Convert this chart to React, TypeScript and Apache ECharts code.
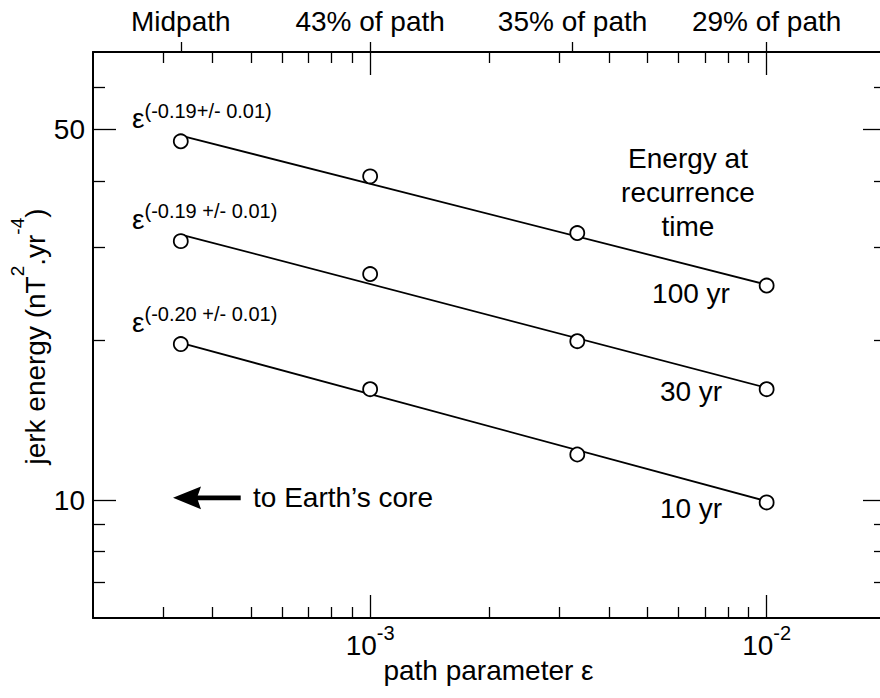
import React, { useEffect, useRef } from "react";
import * as echarts from "echarts";

// ---- data ----
const epsilon = [3.33e-4, 1e-3, 3.33e-3, 1e-2];
const energy100yr = [47.5, 40.8, 31.9, 25.4];
const energy30yr = [30.8, 26.7, 19.95, 16.2];
const energy10yr = [19.7, 16.2, 12.2, 9.91];

const fitEpsilon = [3.33e-4, 1e-2];
const fit100yr = [48.7, 25.5];
const fit30yr = [31.7, 16.3];
const fit10yr = [19.8, 9.96];

const exponentLabels = ["(-0.19+/- 0.01)", "(-0.19 +/- 0.01)", "(-0.20 +/- 0.01)"];
const recurrenceLabels = ["100 yr", "30 yr", "10 yr"];

const xMin = 2e-4;
const xMax = 2e-2;
const yMin = 6;
const yMax = 70;

const xMajorTicks = [1e-3, 1e-2];
const xMajorExponents = ["-3", "-2"];
const xMinorTicks = [3e-4, 4e-4, 5e-4, 6e-4, 7e-4, 8e-4, 9e-4, 2e-3, 3e-3, 4e-3, 5e-3, 6e-3, 7e-3, 8e-3, 9e-3];
const topTickValues = [3.33e-4, 1e-3, 3.24e-3, 1e-2];
const topTickLabels = ["Midpath", "43% of path", "35% of path", "29% of path"];

const yMajorTicks = [10, 50];
const yMinorTicks = [7, 8, 9, 20, 30, 40, 60];

const FONT = "'Liberation Sans', Arial, Helvetica, sans-serif";
const BLACK = "#000";

function findIdx(list: number[], v: number) {
  return list.findIndex((t) => Math.abs(Math.log10(t) - Math.log10(v)) < 1e-4);
}

function buildOption() {
  const tickLine = { color: BLACK, width: 1.3 };
  const frameLine = { show: true, onZero: false, lineStyle: { color: BLACK, width: 2 } };
  const noLine = { show: false, onZero: false };

  const xBase = {
    type: "log",
    logBase: 10,
    min: xMin,
    max: xMax,
    gridIndex: 0,
    splitLine: { show: false },
    minorTick: { show: false },
  };
  const yBase = {
    type: "log",
    logBase: 10,
    min: yMin,
    max: yMax,
    gridIndex: 0,
    splitLine: { show: false },
    minorTick: { show: false },
  };

  const xAxis = [
    {
      ...xBase,
      position: "bottom",
      axisLine: frameLine,
      axisTick: { show: true, inside: true, length: 11, customValues: xMinorTicks, lineStyle: tickLine },
      axisLabel: { show: false },
    },
    {
      ...xBase,
      position: "bottom",
      axisLine: noLine,
      axisTick: { show: true, inside: true, length: 23, customValues: xMajorTicks, lineStyle: tickLine },
      axisLabel: {
        show: true,
        customValues: xMajorTicks,
        margin: 5,
        formatter: (v: number) => {
          const i = findIdx(xMajorTicks, v);
          return i < 0 ? "" : `{b|10}{s|${xMajorExponents[i]}}`;
        },
        rich: {
          b: { fontSize: 28, lineHeight: 44, height: 44, verticalAlign: "bottom", color: BLACK, fontFamily: FONT },
          s: { fontSize: 20, lineHeight: 20, height: 20, verticalAlign: "top", color: BLACK, fontFamily: FONT },
        },
      },
    },
    {
      ...xBase,
      position: "top",
      axisLine: frameLine,
      axisTick: { show: true, inside: true, length: 11, customValues: xMinorTicks, lineStyle: tickLine },
      axisLabel: { show: false },
    },
    {
      ...xBase,
      position: "top",
      axisLine: noLine,
      axisTick: { show: true, inside: true, length: 23, customValues: xMajorTicks, lineStyle: tickLine },
      axisLabel: { show: false },
    },
    {
      ...xBase,
      position: "top",
      axisLine: noLine,
      axisTick: { show: true, inside: false, length: 10, customValues: topTickValues, lineStyle: tickLine },
      axisLabel: {
        show: true,
        customValues: topTickValues,
        margin: 17,
        fontSize: 28,
        color: BLACK,
        fontFamily: FONT,
        formatter: (v: number) => {
          const i = findIdx(topTickValues, v);
          return i < 0 ? "" : topTickLabels[i];
        },
      },
    },
  ];

  const yAxis = [
    {
      ...yBase,
      position: "left",
      axisLine: frameLine,
      axisTick: { show: true, inside: true, length: 12, customValues: yMinorTicks, lineStyle: tickLine },
      axisLabel: { show: false },
    },
    {
      ...yBase,
      position: "left",
      axisLine: noLine,
      axisTick: { show: true, inside: true, length: 23, customValues: yMajorTicks, lineStyle: tickLine },
      axisLabel: {
        show: true,
        customValues: yMajorTicks,
        margin: 8,
        fontSize: 28,
        color: BLACK,
        fontFamily: FONT,
        formatter: (v: number) => String(Math.round(v)),
      },
    },
    {
      ...yBase,
      position: "right",
      axisLine: frameLine,
      axisTick: { show: true, inside: true, length: 12, customValues: yMinorTicks, lineStyle: tickLine },
      axisLabel: { show: false },
    },
    {
      ...yBase,
      position: "right",
      axisLine: noLine,
      axisTick: { show: true, inside: true, length: 23, customValues: yMajorTicks, lineStyle: tickLine },
      axisLabel: { show: false },
    },
  ];

  const fits = [fit100yr, fit30yr, fit10yr];
  const points = [energy100yr, energy30yr, energy10yr];

  const lineSeries = fits.map((f, k) => ({
    name: `fit ${recurrenceLabels[k]}`,
    type: "line",
    xAxisIndex: 0,
    yAxisIndex: 0,
    data: fitEpsilon.map((x, i) => [x, f[i]]),
    symbol: "none",
    silent: true,
    z: 2,
    lineStyle: { color: BLACK, width: 1.8 },
  }));

  const scatterSeries = points.map((p, k) => ({
    name: recurrenceLabels[k],
    type: "scatter",
    xAxisIndex: 0,
    yAxisIndex: 0,
    data: epsilon.map((x, i) => [x, p[i]]),
    symbol: "circle",
    symbolSize: 14,
    silent: true,
    z: 3,
    itemStyle: { color: "#fff", borderColor: BLACK, borderWidth: 1.8, opacity: 1 },
  }));

  const epsRich = {
    e: { fontSize: 28, lineHeight: 36, height: 36, verticalAlign: "bottom", fill: BLACK, fontFamily: FONT },
    s: { fontSize: 20, lineHeight: 20, height: 20, verticalAlign: "top", fill: BLACK, fontFamily: FONT },
  };
  const epsY = [118.5, 219, 322];
  const recY = [293, 391, 508.5];

  const graphic: any[] = [];
  exponentLabels.forEach((t, i) => {
    graphic.push({
      type: "text",
      x: 132,
      y: epsY[i],
      silent: true,
      style: {
        text: `{e|ε}{s|${t}}`,
        rich: epsRich,
        align: "left",
        verticalAlign: "middle",
        fill: BLACK,
        fontFamily: FONT,
      },
    });
  });
  recurrenceLabels.forEach((t, i) => {
    graphic.push({
      type: "text",
      x: 691,
      y: recY[i],
      silent: true,
      style: { text: t, fontSize: 28, fontFamily: FONT, fill: BLACK, align: "center", verticalAlign: "middle" },
    });
  });
  graphic.push({
    type: "text",
    x: 688,
    y: 192,
    silent: true,
    style: {
      text: "Energy at\nrecurrence\ntime",
      fontSize: 28,
      lineHeight: 34,
      fontFamily: FONT,
      fill: BLACK,
      align: "center",
      verticalAlign: "middle",
    },
  });
  // arrow "to Earth's core"
  graphic.push({
    type: "polygon",
    silent: true,
    shape: { points: [[173, 497.8], [201, 486.5], [197, 497.8], [201, 509.2]] },
    style: { fill: BLACK },
  });
  graphic.push({
    type: "rect",
    silent: true,
    shape: { x: 196, y: 495.6, width: 44.7, height: 4.6 },
    style: { fill: BLACK },
  });
  graphic.push({
    type: "text",
    x: 253,
    y: 497.7,
    silent: true,
    style: { text: "to Earth’s core", fontSize: 28, fontFamily: FONT, fill: BLACK, align: "left", verticalAlign: "middle" },
  });
  // axis titles
  graphic.push({
    type: "text",
    x: 488.5,
    y: 670,
    silent: true,
    style: { text: "path parameter ε", fontSize: 28, fontFamily: FONT, fill: BLACK, align: "center", verticalAlign: "middle" },
  });
  graphic.push({
    type: "text",
    x: 35.5,
    y: 336.5,
    rotation: Math.PI / 2,
    silent: true,
    style: {
      text: "{n|jerk energy (nT}{s|2}{n|.yr}{s|-4}{n|)}",
      rich: {
        n: { fontSize: 28, lineHeight: 50, height: 50, verticalAlign: "bottom", fill: BLACK, fontFamily: FONT },
        s: { fontSize: 19, lineHeight: 14, height: 14, verticalAlign: "top", fill: BLACK, fontFamily: FONT },
      },
      align: "center",
      verticalAlign: "middle",
      fill: BLACK,
      fontFamily: FONT,
    },
  });

  return {
    animation: false,
    backgroundColor: "#fff",
    textStyle: { fontFamily: FONT, color: BLACK },
    grid: { left: 93, right: -6, top: 52, bottom: 80, containLabel: false, outerBoundsMode: "none" },
    xAxis,
    yAxis,
    series: [...lineSeries, ...scatterSeries],
    graphic,
  };
}

export default function App() {
  const ref = useRef<HTMLDivElement>(null);
  useEffect(() => {
    if (!ref.current) return;
    const chart = echarts.init(ref.current, undefined, { renderer: "svg" });
    chart.setOption(buildOption() as any);
    return () => chart.dispose();
  }, []);
  return (
    <div
      ref={ref}
      style={{ position: "absolute", left: 0, top: 0, width: 880, height: 698, background: "#fff" }}
    />
  );
}
